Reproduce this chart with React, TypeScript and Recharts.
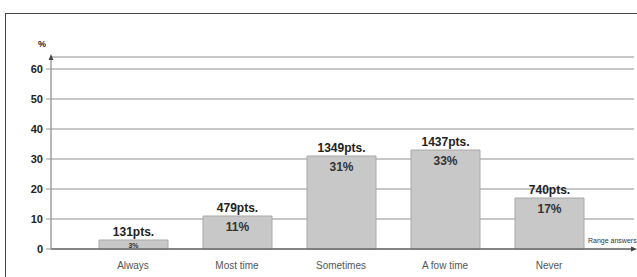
import { BarChart, Bar, XAxis, YAxis, CartesianGrid, LabelList } from "recharts";

const answers = ["Always", "Most time", "Sometimes", "A fow time", "Never"];
const points = [131, 479, 1349, 1437, 740];
const percents = [3, 11, 31, 33, 17];
const yTicks = [0, 10, 20, 30, 40, 50, 60];

const data = answers.map((answer, i) => ({ answer, pts: points[i], pct: percents[i] }));

const font = "'Liberation Sans', Arial, sans-serif";

const PtsLabel = (props: any) => {
  const { x, y, width, value } = props;
  return (
    <text x={x + width / 2} y={y - 4} textAnchor="middle" fontSize={12} fontWeight="bold" fill="#222" fontFamily={font}>
      {value}pts.
    </text>
  );
};

const PctLabel = (props: any) => {
  const { x, y, width, value } = props;
  const small = value < 5;
  return (
    <text
      x={x + width / 2}
      y={small ? y + 8 : y + 15}
      textAnchor="middle"
      fontSize={small ? 7 : 12}
      fontWeight="bold"
      fill="#333"
      fontFamily={font}
    >
      {value}%
    </text>
  );
};

const App = () => {
  return (
    <div style={{ position: "fixed", left: 0, top: 0, width: 637, height: 277, overflow: "hidden", background: "#fff" }}>
      <svg width={0} height={0} style={{ position: "absolute" }}>
        <defs>
          <marker id="arrowHead" viewBox="0 0 10 10" refX="5" refY="5" markerWidth="5" markerHeight="5" orient="auto-start-reverse">
            <path d="M0,1 L10,5 L0,9 z" fill="#444" />
          </marker>
        </defs>
      </svg>
      <div style={{ position: "absolute", left: 5, top: 13, width: 700, height: 300, borderLeft: "1.5px solid #444", borderTop: "1.5px solid #444" }} />
      <div style={{ position: "absolute", left: 0, top: 0 }}>
        <BarChart width={637} height={277} data={data} margin={{ top: 57, right: 3, bottom: 3, left: 6 }}>
          <CartesianGrid vertical={false} stroke="#b4b4b4" strokeWidth={1.5} />
          <XAxis
            dataKey="answer"
            height={25}
            padding={{ left: 30, right: 33 }}
            tickLine={false}
            tickSize={8}
            tickMargin={5}
            axisLine={{ stroke: "#444", strokeWidth: 1.2, markerEnd: "url(#arrowHead)" }}
            tick={{ fontSize: 10, fill: "#555", fontFamily: font }}
            label={(p: any) => (
              <text x={588} y={243} fontSize={7} fill="#333" fontFamily={font}>
                Range answers
              </text>
            )}
          />
          <YAxis
            width={45}
            domain={[0, 64]}
            ticks={yTicks}
            interval={0}
            tickSize={5}
            tickMargin={3}
            tickLine={{ stroke: "#999" }}
            axisLine={{ stroke: "#888", strokeWidth: 1.2, markerStart: "url(#arrowHead)" }}
            tick={{ fontSize: 11, fontWeight: "bold", fill: "#222", fontFamily: font }}
            label={(p: any) => (
              <text x={42} y={47} textAnchor="middle" fontSize={9} fontWeight="bold" fill="#222" fontFamily={font}>
                %
              </text>
            )}
          />
          <Bar dataKey="pct" barSize={69} fill="#c8c8c8" stroke="#a8a8a8" strokeWidth={1} isAnimationActive={false}>
            <LabelList dataKey="pts" content={PtsLabel} />
            <LabelList dataKey="pct" content={PctLabel} />
          </Bar>
        </BarChart>
      </div>
    </div>
  );
};

export default App;
